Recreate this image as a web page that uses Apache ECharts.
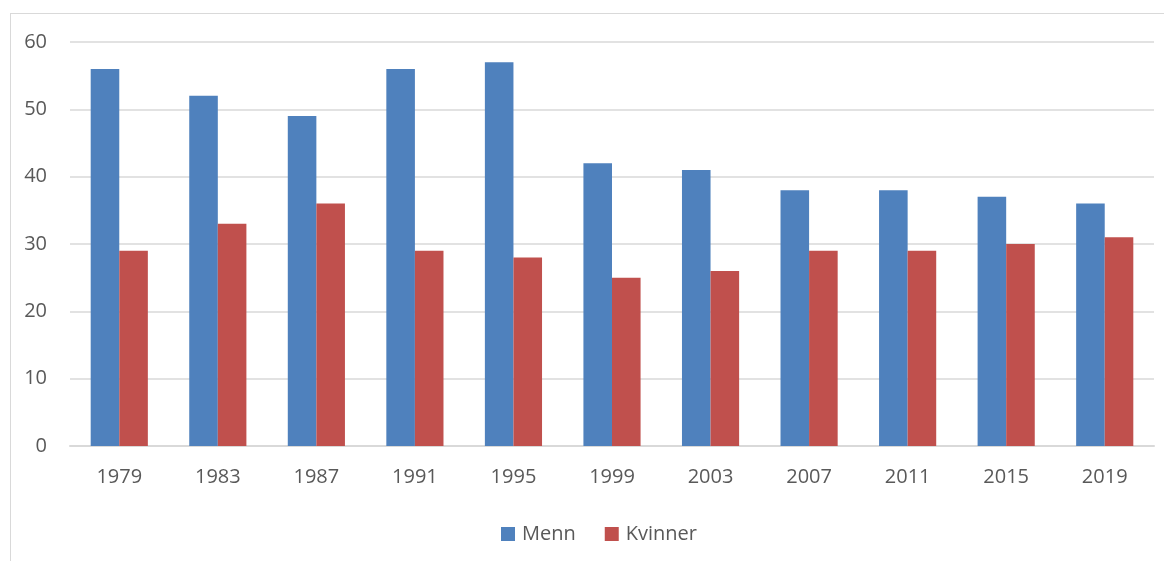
<!DOCTYPE html>
<html>
<head>
<meta charset="utf-8">
<script src="https://cdn.jsdelivr.net/npm/echarts@6/dist/echarts.min.js"></script>
<style>
  html, body { margin: 0; padding: 0; background: #fff; }
  #frame { position: absolute; left: 10px; top: 13px; width: 1200px; height: 600px;
           border-top: 1px solid #d9d9d9; border-left: 1px solid #d9d9d9; }
  #main { position: absolute; left: 0; top: 0; width: 1164px; height: 561px; }
</style>
</head>
<body>
<div id="frame"></div>
<div id="main"></div>
<script>
// år og verdier
const years = ['1979', '1983', '1987', '1991', '1995', '1999', '2003', '2007', '2011', '2015', '2019'];
const menn = [56, 52, 49, 56, 57, 42, 41, 38, 38, 37, 36];
const kvinner = [29, 33, 36, 29, 28, 25, 26, 29, 29, 30, 31];

const chart = echarts.init(document.getElementById('main'));
const font = 'Open Sans, Noto Sans, sans-serif';
chart.setOption({
  animation: false,
  textStyle: { fontFamily: font },
  grid: { left: 70, right: 10, top: 42, bottom: 115 },
  legend: {
    bottom: 12,
    left: 496,
    itemWidth: 14,
    itemHeight: 14,
    itemGap: 29,
    icon: 'rect',
    textStyle: { fontSize: 20, color: '#595959', fontFamily: font, padding: [0, 0, 0, 2] },
    data: ['Menn', 'Kvinner']
  },
  xAxis: {
    type: 'category',
    data: years,
    axisLine: { lineStyle: { color: '#d9d9d9', width: 2 } },
    axisTick: { show: false },
    axisLabel: { fontSize: 20, color: '#595959', margin: 21 }
  },
  yAxis: {
    type: 'value',
    min: 0,
    max: 60,
    interval: 10,
    axisLine: { show: false },
    axisTick: { show: false },
    axisLabel: { fontSize: 20, color: '#595959', margin: 23 },
    splitLine: { lineStyle: { color: '#d9d9d9', width: 1.5 } }
  },
  series: [
    {
      name: 'Menn',
      type: 'bar',
      data: menn,
      barGap: '0%',
      barCategoryGap: '42%',
      itemStyle: { color: '#4f81bd' }
    },
    {
      name: 'Kvinner',
      type: 'bar',
      data: kvinner,
      itemStyle: { color: '#c0504d' }
    }
  ]
});
</script>
</body>
</html>
